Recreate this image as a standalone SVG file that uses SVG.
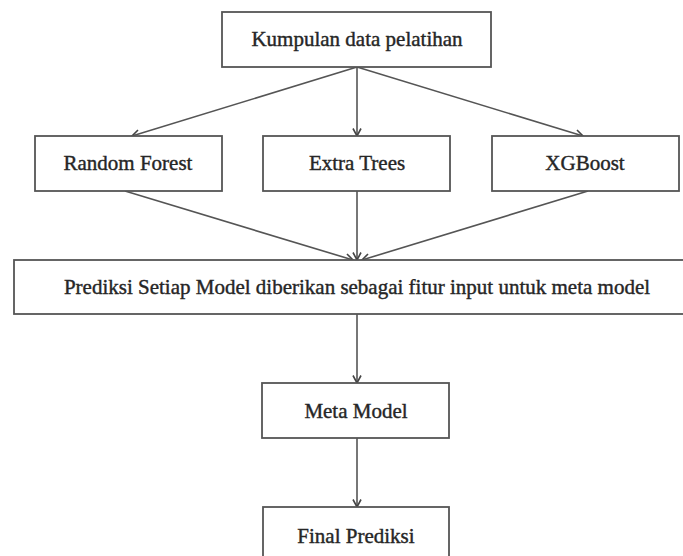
<svg xmlns="http://www.w3.org/2000/svg" width="683" height="556" viewBox="0 0 683 556">
  <style>
    .box { fill: #ffffff; stroke: #555555; stroke-width: 1.8; }
    .lbl { font-family: "Liberation Serif", "DejaVu Serif", serif; font-size: 21px; fill: #262626; text-anchor: middle; stroke: #262626; stroke-width: 0.4; }
    .edge { fill: none; stroke: #555555; stroke-width: 1.6; marker-end: url(#chev); }
  </style>
  <defs>
    <marker id="chev" viewBox="0 0 10 10" refX="9.5" refY="5" markerWidth="10" markerHeight="10" markerUnits="userSpaceOnUse" orient="auto">
      <path d="M2,1 L9.5,5 L2,9" fill="none" stroke="#444444" stroke-width="1.6"/>
    </marker>
  </defs>
  <rect width="683" height="556" fill="#ffffff"/>

  <g id="edges">
    <path class="edge" d="M357,67 L132,136"/>
    <path class="edge" d="M357,67 L357,136"/>
    <path class="edge" d="M357,67 L583,136"/>
    <path class="edge" d="M125,191 L353,260"/>
    <path class="edge" d="M357,191 L357,260"/>
    <path class="edge" d="M588,191 L362,260"/>
    <path class="edge" d="M357,314 L357,383"/>
    <path class="edge" d="M357,438 L357,507"/>
  </g>

  <g id="n-data">
    <rect class="box" x="222" y="12" width="269" height="55"/>
    <text class="lbl" x="357" y="46">Kumpulan data pelatihan</text>
  </g>
  <g id="n-rf">
    <rect class="box" x="35" y="136" width="187" height="55"/>
    <text class="lbl" x="128" y="170">Random Forest</text>
  </g>
  <g id="n-et">
    <rect class="box" x="263" y="136" width="187" height="55"/>
    <text class="lbl" x="357" y="170">Extra Trees</text>
  </g>
  <g id="n-xgb">
    <rect class="box" x="492" y="136" width="187" height="55"/>
    <text class="lbl" x="585" y="170">XGBoost</text>
  </g>
  <g id="n-pred">
    <rect class="box" x="14" y="260" width="690" height="54"/>
    <text class="lbl" x="357" y="294">Prediksi Setiap Model diberikan sebagai fitur input untuk meta model</text>
  </g>
  <g id="n-meta">
    <rect class="box" x="262" y="383" width="187" height="55"/>
    <text class="lbl" x="356" y="418">Meta Model</text>
  </g>
  <g id="n-final">
    <rect class="box" x="263" y="507" width="186" height="70"/>
    <text class="lbl" x="356" y="543">Final Prediksi</text>
  </g>
</svg>
